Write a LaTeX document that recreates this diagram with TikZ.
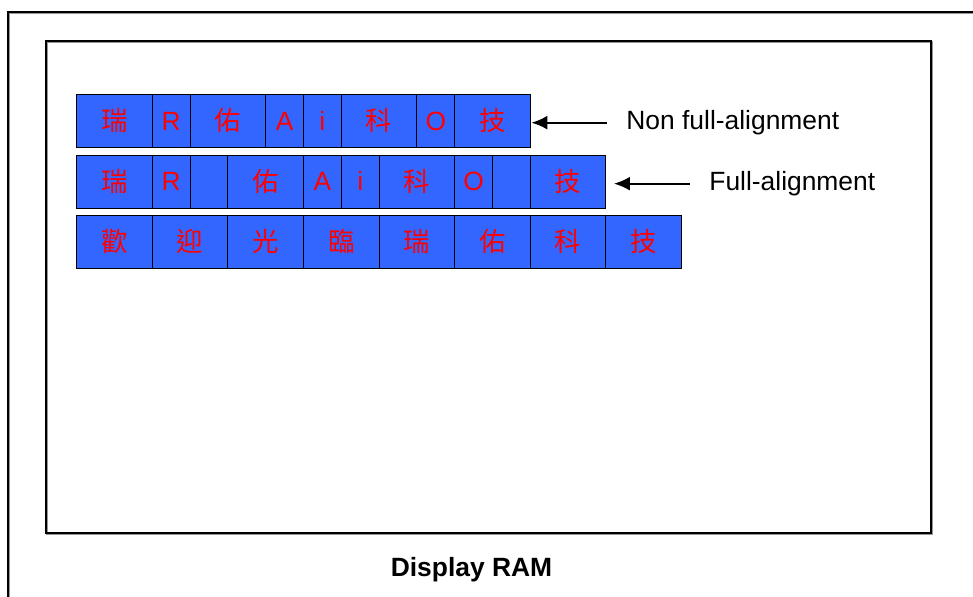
\documentclass[tikz,border=0pt]{standalone}
\usepackage{fontspec}
\setmainfont{Liberation Sans}
\newfontfamily\cjk{Noto Sans CJK TC}
\usepackage{tikz}
\usetikzlibrary{arrows.meta, positioning}
\definecolor{cellblue}{RGB}{51,102,255}
\definecolor{glyphred}{RGB}{255,0,0}
\definecolor{edgegray}{RGB}{150,150,150}

\begin{document}
\begin{tikzpicture}[
  x=0.5pt, y=-0.5pt,
  node distance=0pt,
  cell/.style={draw=black, line width=0.5pt, fill=cellblue, text=glyphred,
               minimum height=26.5pt, inner sep=0pt, outer sep=0pt},
  full/.style={cell, minimum width=37.8pt, font=\cjk\fontsize{13.2}{13.2}\selectfont,
               text height=11.2pt, text depth=1.2pt},
  half/.style={cell, minimum width=18.9pt, font=\fontsize{13.2}{13.2}\selectfont,
               text height=9.4pt, text depth=0pt},
  lbl/.style={font=\fontsize{13.2}{15}\selectfont, inner sep=0pt},
  a/.style={-{Latex[length=8pt, width=7pt]}, line width=1.1pt}
]
\useasboundingbox (0,0) rectangle (973,596);

% ---------- frames ----------
\draw[edgegray, line width=1pt] (9,597) -- (9,12.5) -- (974,12.5);
\draw[line width=1pt] (8,597) -- (8,11.5) -- (974,11.5);
\draw[edgegray, line width=1pt] (46.7,42.3) rectangle (932,533.7);
\draw[line width=1pt] (45.7,41.3) rectangle (931,532.7);

% ---------- row 1: non full-alignment ----------
\node[full, anchor=west] (a1) at (76.7,120.8) {瑞};
\node[half, right=of a1] (a2) {R};
\node[full, right=of a2] (a3) {佑};
\node[half, right=of a3] (a4) {A};
\node[half, right=of a4] (a5) {i};
\node[full, right=of a5] (a6) {科};
\node[half, right=of a6] (a7) {O};
\node[full, right=of a7] (a8) {技};

% ---------- row 2: full-alignment ----------
\node[full, anchor=west] (b1) at (76.7,181.5) {瑞};
\node[half, right=of b1] (b2) {R};
\node[half, right=of b2] (b3) {};
\node[full, right=of b3] (b4) {佑};
\node[half, right=of b4] (b5) {A};
\node[half, right=of b5] (b6) {i};
\node[full, right=of b6] (b7) {科};
\node[half, right=of b7] (b8) {O};
\node[half, right=of b8] (b9) {};
\node[full, right=of b9] (b10) {技};

% ---------- row 3: all full-width ----------
\foreach \t [count=\i] in {歡,迎,光,臨,瑞,佑,科,技}
  {\node[full, anchor=west] (c\i) at ({76.7+(\i-1)*75.6},241.5) {\t};}

% ---------- labels ----------
\node[lbl, anchor=base west] (nonfull) at (626,129.5) {Non full-alignment};
\node[lbl, anchor=base west] (fullal) at (709,190.5) {Full-alignment};
\node[lbl, anchor=base, font=\fontsize{13.2}{15}\selectfont\bfseries] (ram) at (471.5,576.7) {Display RAM};

\draw[a, shorten <=9.5pt, shorten >=0.5pt] (nonfull.west) -- (a8.east |- nonfull.west);
\draw[a, shorten <=9.5pt, shorten >=4pt] (fullal.west) -- (b10.east |- fullal.west);

\end{tikzpicture}
\end{document}
